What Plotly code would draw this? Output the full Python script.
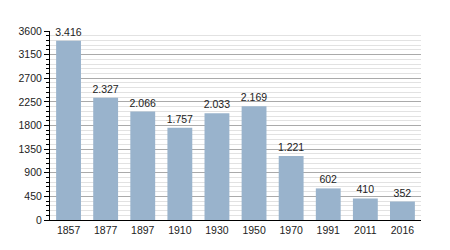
import plotly.graph_objects as go

years = ["1857", "1877", "1897", "1910", "1930", "1950", "1970", "1991", "2011", "2016"]
population = [3416, 2327, 2066, 1757, 2033, 2169, 1221, 602, 410, 352]
y_ticks = [0, 450, 900, 1350, 1800, 2250, 2700, 3150, 3600]

fig = go.Figure(go.Bar(
    x=years, y=population,
    marker=dict(color="#99b3cc", line=dict(width=0)),
    texttemplate="%{y:,}", textposition="outside",
    textfont=dict(size=10.5, color="#222"),
    cliponaxis=False, constraintext="none",
))

fig.update_layout(
    width=450, height=250,
    margin=dict(l=50, r=29, t=31, b=30),
    paper_bgcolor="white", plot_bgcolor="white",
    font=dict(family="Liberation Sans, Arial", size=10.5, color="#222"),
    separators=",.",
    bargap=0.33,
    showlegend=False,
)
fig.update_xaxes(
    type="category", showline=True, linecolor="black", linewidth=1,
    ticks="", showgrid=False, ticklabelstandoff=0,
)
fig.update_yaxes(
    range=[0, 3600], tickvals=y_ticks, showline=True, linecolor="black", linewidth=1,
    ticks="outside", ticklen=5, tickcolor="black",
    showgrid=True, gridcolor="#aaaaaa", gridwidth=1, zeroline=False,
    minor=dict(dtick=90, showgrid=True, gridcolor="#e2e2e2", ticks="outside", ticklen=3, tickcolor="black"),
)

fig.write_html("out.html")
